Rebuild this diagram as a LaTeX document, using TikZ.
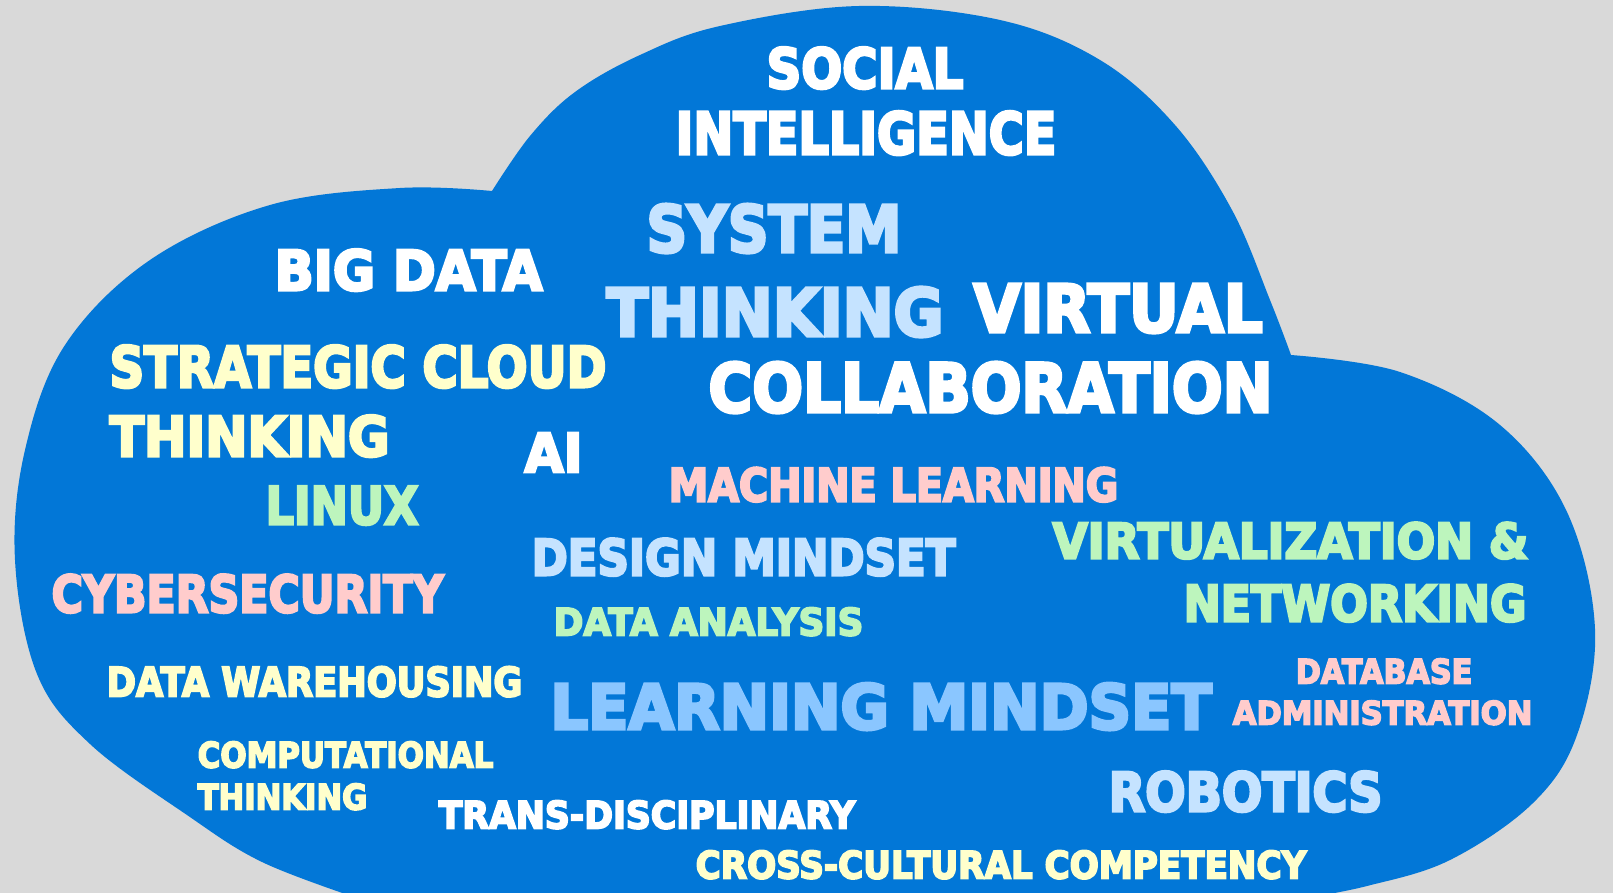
\documentclass[tikz,border=0pt]{standalone}
\usepackage{fontspec}
\setmainfont{DejaVu Sans}
\newfontfamily\heavyfont{DejaVu Sans}[UprightFont=*-Bold, BoldFont=*-Bold, FakeBold=5]
\usepackage{graphicx}
\definecolor{bggray}{RGB}{217,217,217}
\definecolor{cloudblue}{RGB}{2,119,215}
\definecolor{wwhite}{RGB}{255,255,255}
\definecolor{wlblue}{RGB}{197,227,255}
\definecolor{wmblue}{RGB}{138,198,255}
\definecolor{wyellow}{RGB}{255,255,204}
\definecolor{wgreen}{RGB}{189,245,189}
\definecolor{wpink}{RGB}{255,204,204}
\tikzset{
  wordnode/.style={inner sep=0pt, outer sep=0pt, anchor=south west, font=\heavyfont\bfseries},
  cloudfill/.style={fill=cloudblue, draw=none}
}
% name, colour, left, top, right, bottom, text
\newcommand{\cloudword}[7]{%
  \pgfmathsetmacro{\wh}{#6-#4}%
  \pgfmathsetmacro{\ww}{#5-#3+0.02*\wh}%
  \pgfmathsetmacro{\wl}{#3-0.01*\wh}%
  \node[wordnode, text=#2] (#1) at (\wl,#6) {\resizebox{\ww pt}{\wh pt}{#7}};%
}
\begin{document}
\begin{tikzpicture}[x=1pt,y=-1pt]
\useasboundingbox (0,0) rectangle (1613,893);
\fill[bggray] (0,0) rectangle (1613,893);
\begin{scope}
\clip (0,0) rectangle (1613,893);
\fill[cloudfill]
  plot[smooth, tension=0.6] coordinates {(492,191) (530,136) (575,92) (640,55) (720,26) (859,6) (1000,20) (1100,60) (1175,125) (1232,210) (1270,300) (1291,355)}
  -- plot[smooth, tension=0.6] coordinates {(1291,355) (1400,372) (1500,425) (1567,512) (1595,629) (1577,735) (1533,803) (1450,860) (1367,886) (1300,899)}
  -- plot[smooth, tension=0.6] coordinates {(360,899) (262,862) (187,815) (90,744) (37,674) (15,560) (25,450) (65,345) (150,260) (270,205) (400,188) (492,191)}
  -- cycle;
\end{scope}
\cloudword{social}{wwhite}{767}{48}{963}{89}{SOCIAL}
\cloudword{intel}{wwhite}{676}{112}{1056}{155}{INTELLIGENCE}
\cloudword{system}{wlblue}{647}{205}{901}{253}{SYSTEM}
\cloudword{systhink}{wlblue}{607}{288}{943}{337}{THINKING}
\cloudword{virtual}{wwhite}{974}{285}{1262}{333}{VIRTUAL}
\cloudword{collab}{wwhite}{709}{363}{1272}{413}{COLLABORATION}
\cloudword{bigdata}{wwhite}{275}{250}{542}{291}{BIG DATA}
\cloudword{strat}{wyellow}{110}{346}{606}{388}{STRATEGIC CLOUD}
\cloudword{stratthink}{wyellow}{110}{416}{389}{457}{THINKING}
\cloudword{ai}{wwhite}{525}{433}{582}{472}{AI}
\cloudword{linux}{wgreen}{266}{487}{418}{525}{LINUX}
\cloudword{ml}{wpink}{669}{468}{1118}{502}{MACHINE LEARNING}
\cloudword{design}{wlblue}{532}{539}{955}{576}{DESIGN MINDSET}
\cloudword{virtz}{wgreen}{1053}{523}{1528}{559}{VIRTUALIZATION \&}
\cloudword{netw}{wgreen}{1184}{585}{1526}{622}{NETWORKING}
\cloudword{cyber}{wpink}{52}{575}{443}{613}{CYBERSECURITY}
\cloudword{danal}{wgreen}{554}{608}{863}{636}{DATA ANALYSIS}
\cloudword{dware}{wyellow}{107}{667}{522}{697}{DATA WAREHOUSING}
\cloudword{learn}{wmblue}{551}{684}{1211}{730}{LEARNING MINDSET}
\cloudword{dbase}{wpink}{1296}{659}{1472}{684}{DATABASE}
\cloudword{admin}{wpink}{1233}{701}{1532}{725}{ADMINISTRATION}
\cloudword{comput}{wyellow}{198}{742}{493}{768}{COMPUTATIONAL}
\cloudword{compthink}{wyellow}{198}{784}{367}{810}{THINKING}
\cloudword{trans}{wwhite}{439}{801}{855}{829}{TRANS-DISCIPLINARY}
\cloudword{robot}{wlblue}{1109}{772}{1382}{812}{ROBOTICS}
\cloudword{cross}{wyellow}{696}{851}{1306}{879}{CROSS-CULTURAL COMPETENCY}
\end{tikzpicture}
\end{document}
